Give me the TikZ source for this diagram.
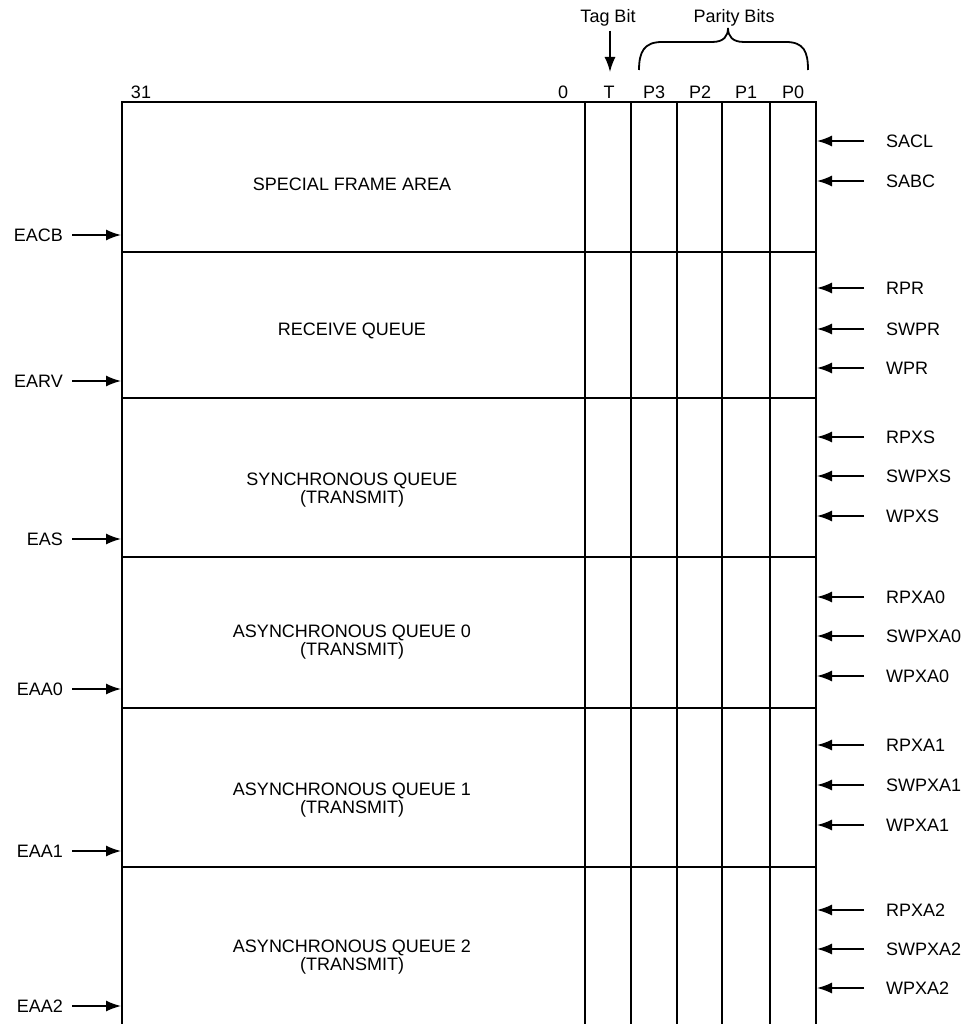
\documentclass[tikz,border=0pt]{standalone}
\usepackage{fontspec}
\setmainfont{Liberation Sans}
\usetikzlibrary{arrows.meta}
\begin{document}
\begin{tikzpicture}[x=1pt,y=-1pt,
  lbl/.style={inner sep=0pt,font=\fontsize{18}{20}\selectfont},
  ttl/.style={inner sep=0pt,align=center,font=\fontsize{18}{18}\selectfont},
  frame/.style={line width=1.6pt},
  div/.style={line width=1.3pt},
  arr/.style={line width=1.5pt,-{Latex[length=15pt,width=11pt]}}]
\useasboundingbox (0,0) rectangle (973,1024);
% frame
\draw[frame] (122,1024) -- (122,102) -- (816,102) -- (816,1024);
\foreach \x in {585,631,677,722,770} \draw[div] (\x,102) -- (\x,1024);
\foreach \y in {252,398,557,708,867} \draw[div] (122,\y) -- (816,\y);
% header
\node[lbl] (b31) at (141,92) {31};
\node[lbl] (b0) at (563,92) {0};
\node[lbl] (bt) at (609,92) {T};
\node[lbl] (bp3) at (654,92) {P3};
\node[lbl] (bp2) at (700,92) {P2};
\node[lbl] (bp1) at (746,92) {P1};
\node[lbl] (bp0) at (793,92) {P0};
\node[lbl] (tag) at (608,18) {Tag Bit};
\node[lbl] (par) at (734,18) {Parity Bits};
\coordinate (tagend) at (610,72);
\draw[arr] (tag.south -| tagend) ++(0,4) -- (tagend);
\draw[line width=1.8pt] (639,70) .. controls (639,52) and (644,42) .. (662,42)
  -- (712,42) .. controls (724,42) and (728,36) .. (728,28)
  .. controls (728,36) and (732,42) .. (744,42)
  -- (786,42) .. controls (804,42) and (808,52) .. (808,70);
% titles
\node[ttl] (t1) at (352,184) {SPECIAL FRAME AREA};
\node[ttl] (t2) at (352,331) {RECEIVE QUEUE};
\node[ttl] (t3) at (352,490) {SYNCHRONOUS QUEUE\\(TRANSMIT)};
\node[ttl] (t4) at (352,642) {ASYNCHRONOUS QUEUE 0\\(TRANSMIT)};
\node[ttl] (t5) at (352,800) {ASYNCHRONOUS QUEUE 1\\(TRANSMIT)};
\node[ttl] (t6) at (352,957) {ASYNCHRONOUS QUEUE 2\\(TRANSMIT)};
% left arrows
\foreach \n/\y in {EACB/235,EARV/381,EAS/539,EAA0/689,EAA1/851,EAA2/1006}{
  \node[lbl,anchor=east] (\n) at (63,\y) {\n};
  \coordinate (\n-t) at (121,\y);
  \draw[arr] ([xshift=9pt]\n.east) -- (\n-t);
}
% right arrows
\foreach \n/\y in {SACL/141,SABC/181,RPR/288,SWPR/329,WPR/368,RPXS/437,SWPXS/476,WPXS/516,RPXA0/597,SWPXA0/636,WPXA0/676,RPXA1/745,SWPXA1/785,WPXA1/825,RPXA2/910,SWPXA2/949,WPXA2/988}{
  \node[lbl,anchor=west] (\n) at (886,\y) {\n};
  \coordinate (\n-t) at (817,\y);
  \draw[arr] ([xshift=-22pt]\n.west) -- (\n-t);
}
\end{tikzpicture}
\end{document}
